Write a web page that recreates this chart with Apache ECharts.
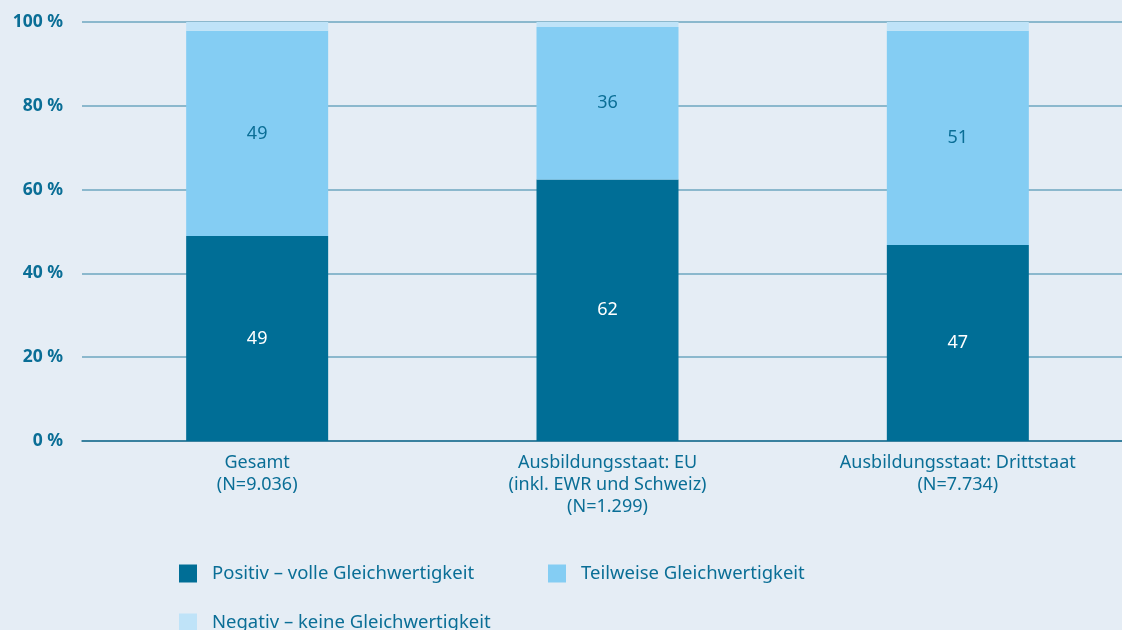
<!DOCTYPE html>
<html>
<head>
<meta charset="utf-8">
<script src="https://cdn.jsdelivr.net/npm/echarts@6/dist/echarts.min.js"></script>
<style>
html, body { margin: 0; padding: 0; background: #e5edf5; }
#chart { width: 1122px; height: 630px; }
</style>
</head>
<body>
<div id="chart"></div>
<script>
var categories = ['Gesamt\n(N=9.036)', 'Ausbildungsstaat: EU\n(inkl. EWR und Schweiz)\n(N=1.299)', 'Ausbildungsstaat: Drittstaat\n(N=7.734)'];
var positiv = [48.9, 62.4, 46.8];
var teilweise = [49.0, 36.4, 51.1];
var negativ = [2.1, 1.2, 2.1];
var seriesNames = ['Positiv – volle Gleichwertigkeit', 'Teilweise Gleichwertigkeit', 'Negativ – keine Gleichwertigkeit'];
var yTicks = [0, 20, 40, 60, 80, 100];

var font = '"Noto Sans", "Open Sans", sans-serif';
var textColor = '#0a6e96';

var chartDom = document.getElementById('chart');
var myChart = echarts.init(chartDom);

function legendAt(name, left, top) {
    return {
        data: [name],
        left: left,
        top: top,
        itemWidth: 18,
        itemHeight: 18,
        icon: 'rect',
        itemGap: 0,
        textStyle: { fontFamily: font, fontSize: 18.5, color: textColor, padding: [0, 0, 0, 10] }
    };
}

var option = {
    backgroundColor: '#e5edf5',
    textStyle: { fontFamily: font },
    grid: { left: 82, width: 1051, top: 22, height: 419, outerBoundsMode: 'none', containLabel: false },
    legend: [
        legendAt(seriesNames[0], 174, 559),
        legendAt(seriesNames[1], 543, 559),
        legendAt(seriesNames[2], 174, 608)
    ],
    xAxis: {
        type: 'category',
        data: categories,
        axisTick: { show: false },
        axisLine: { lineStyle: { color: '#1f6f90', width: 1.5 } },
        axisLabel: {
            color: textColor, fontFamily: font, fontSize: 18, lineHeight: 22,
            margin: 11, interval: 0
        }
    },
    yAxis: {
        type: 'value',
        min: 0,
        max: 100,
        interval: 20,
        axisLine: { show: false },
        axisTick: { show: false },
        splitLine: { lineStyle: { color: '#6ca6bf', width: 1.5 } },
        axisLabel: {
            color: textColor, fontFamily: font, fontSize: 17.5, fontWeight: 'bold', margin: 19,
            formatter: function (v) { return yTicks.indexOf(v) >= 0 ? v + ' %' : ''; }
        }
    },
    series: [
        {
            name: seriesNames[0], type: 'bar', stack: 'Total', data: positiv,
            barWidth: 142,
            itemStyle: { color: '#006e96' },
            label: {
                show: true, position: 'inside', color: '#ffffff', fontFamily: font, fontSize: 18,
                formatter: function (p) { return Math.round(p.value); }
            }
        },
        {
            name: seriesNames[1], type: 'bar', stack: 'Total', data: teilweise,
            itemStyle: { color: '#84cdf3' },
            label: {
                show: true, position: 'inside', color: textColor, fontFamily: font, fontSize: 18,
                formatter: function (p) { return Math.round(p.value); }
            }
        },
        {
            name: seriesNames[2], type: 'bar', stack: 'Total', data: negativ,
            itemStyle: { color: '#bfe3f8' }
        }
    ]
};

option && myChart.setOption(option);
</script>
</body>
</html>
